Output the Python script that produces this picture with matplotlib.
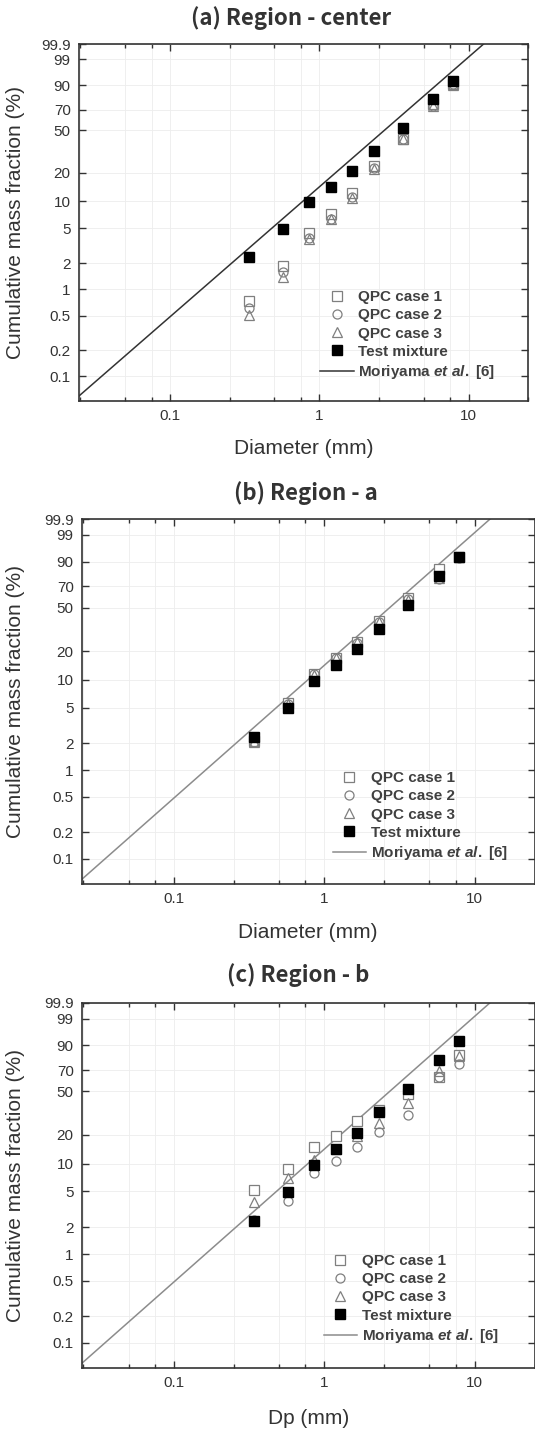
import numpy as np
import matplotlib
matplotlib.use('Agg')
import matplotlib.pyplot as plt
from matplotlib.ticker import FixedLocator, FixedFormatter, LogLocator, NullFormatter, NullLocator

plt.rcParams['font.family'] = ['Liberation Sans', 'DejaVu Sans']
plt.rcParams['mathtext.fontset'] = 'custom'
plt.rcParams['mathtext.it'] = 'Liberation Sans:italic:bold'
plt.rcParams['mathtext.rm'] = 'Liberation Sans:bold'

# sieve diameters (mm) and cumulative mass fraction (%)
diameter = [0.34, 0.57, 0.855, 1.19, 1.66, 2.31, 3.63, 5.75, 7.9]
test_mixture = [2.35, 4.95, 9.7, 14.3, 21.0, 33.0, 52.0, 79.5, 92.5]

a_case1 = [0.73, 1.85, 4.4, 7.2, 12.3, 23.5, 42.5, 75.5, 91.0]
a_case2 = [0.61, 1.6, 3.9, 6.4, 11.2, 22.3, 42.0, 73.5, 90.5]
a_case3 = [0.51, 1.4, 3.8, 6.3, 10.9, 22.0, 42.0, 73.0, 90.3]

b_case1 = [2.15, 5.6, 11.6, 17.2, 24.7, 38.5, 58.5, 85.0, 92.4]
b_case2 = [2.1, 5.5, 11.5, 17.0, 24.3, 38.0, 58.0, 77.0, 92.2]
b_case3 = [2.1, 5.5, 11.4, 16.9, 24.5, 38.2, 57.5, 78.0, 92.3]

c_case1 = [5.2, 8.8, 15.2, 19.7, 27.3, 35.0, 47.8, 63.5, 83.6]
c_case2 = [2.4, 3.96, 7.9, 10.8, 15.0, 21.3, 31.6, 63.8, 75.4]
c_case3 = [3.85, 7.0, 11.1, 14.5, 19.3, 26.2, 40.1, 69.0, 82.3]

# Moriyama et al. [6] Rosin-Rammler line, two end points
moriyama_d = [0.02, 20]
moriyama_f = [0.0435, 99.9999]

y_ticks = [0.1, 0.2, 0.5, 1, 2, 5, 10, 20, 50, 70, 90, 99, 99.9]
y_labels = ['0.1', '0.2', '0.5', '1', '2', '5', '10', '20', '50', '70', '90', '99', '99.9']
x_ticks = [0.1, 1, 10]
x_labels = ['0.1', '1', '10']

titles = ['(a) Region - center', '(b) Region - a', '(c) Region - b']
xlabels = ['Diameter (mm)', 'Diameter (mm)', 'Dp (mm)']


def rr_fwd(p):
    p = np.clip(np.asarray(p, dtype=float) / 100.0, 1e-12, 1 - 1e-12)
    return np.log(-np.log(1 - p))


def rr_inv(t):
    return 100.0 * (1 - np.exp(-np.exp(t)))


W, H = 535, 1429
fig = plt.figure(figsize=(W / 100, H / 100), dpi=100)

# axes boxes in pixels: left, top, right, bottom
boxes = [(79, 44, 528, 400.7), (82, 519.3, 534.5, 884), (82, 1003, 534.5, 1368)]
title_pos = [(291, 18), (306, 493), (298, 975)]
xlabel_y = [448, 932, 1418]
leg_anchor = [(0.537, 0.055), (0.554, 0.060), (0.534, 0.063)]
line_col = ['#333333', '#8c8c8c', '#8c8c8c']
panels = [(a_case1, a_case2, a_case3), (b_case1, b_case2, b_case3), (c_case1, c_case2, c_case3)]

gray = '#7f7f7f'
for i in range(3):
    l, t, r, b = boxes[i]
    ax = fig.add_axes([l / W, 1 - b / H, (r - l) / W, (b - t) / H])
    ax.set_xscale('log')
    ax.set_yscale('function', functions=(rr_fwd, rr_inv))
    ax.set_xlim(0.0245, 25)
    ax.set_ylim(0.052, 99.9)

    c1, c2, c3 = panels[i]
    ax.plot(diameter, c1, ls='none', marker='s', ms=6.5, mfc='white', mec=gray, mew=0.9, label='QPC case 1', zorder=3)
    ax.plot(diameter, c2, ls='none', marker='o', ms=6.5, mfc='none', mec=gray, mew=0.9, label='QPC case 2', zorder=3)
    ax.plot(diameter, c3, ls='none', marker='^', ms=7, mfc='none', mec=gray, mew=0.9, label='QPC case 3', zorder=3)
    ax.plot(diameter, test_mixture, ls='none', marker='s', ms=6.5, mfc='black', mec='black', label='Test mixture', zorder=4)
    ax.plot(moriyama_d, moriyama_f, color=line_col[i], lw=1.1, label=r'Moriyama $\mathit{et\ al.}$ [6]', zorder=2)

    ax.yaxis.set_major_locator(FixedLocator(y_ticks))
    ax.yaxis.set_major_formatter(FixedFormatter(y_labels))
    ax.yaxis.set_minor_locator(NullLocator())
    ax.xaxis.set_major_locator(FixedLocator(x_ticks))
    ax.xaxis.set_major_formatter(FixedFormatter(x_labels))
    ax.xaxis.set_minor_locator(LogLocator(base=10, subs=[2.5, 5, 7.5]))
    ax.xaxis.set_minor_formatter(NullFormatter())

    ax.tick_params(which='both', direction='in', top=True, right=True, width=1, colors='#333333',
                   labelsize=11, labelcolor='#333333')
    ax.tick_params(which='major', length=5, pad=6)
    ax.tick_params(which='minor', length=3)
    for s in ax.spines.values():
        s.set_linewidth(1.2)
        s.set_color('#333333')
    ax.grid(True, which='both', color='#ededed', lw=0.6, zorder=0)

    ax.set_ylabel('Cumulative mass fraction (%)', fontsize=15, color='#333333')
    ax.yaxis.set_label_coords(-(l - 25) / (r - l), 0.5)
    ax.set_xlabel(xlabels[i], fontsize=15, color='#333333')
    ax.xaxis.set_label_coords(0.5, -(xlabel_y[i] - b) / (b - t), transform=ax.transAxes)
    ax.xaxis.label.set_verticalalignment('center')

    leg = ax.legend(loc='lower left', bbox_to_anchor=leg_anchor[i], frameon=False,
                    prop={'weight': 'bold', 'size': 11}, labelcolor='#404040',
                    handlelength=2.2, handletextpad=0.3, labelspacing=0.28,
                    borderpad=0, borderaxespad=0)

    tx, ty = title_pos[i]
    fig.text(tx / W, 1 - ty / H, titles[i], ha='center', va='center', fontsize=16,
             fontweight='bold', color='#333333', family=['Noto Sans CJK KR', 'DejaVu Sans'])

fig.savefig('out.png', dpi=100)
